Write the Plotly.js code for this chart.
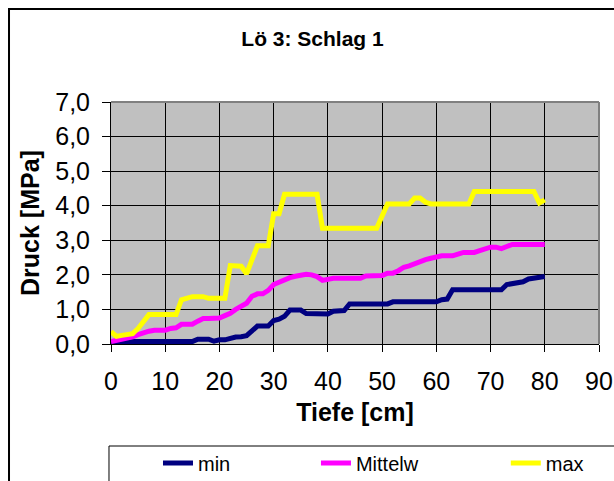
<!DOCTYPE html>
<html>
<head>
<meta charset="utf-8">
<script src="https://cdn.plot.ly/plotly-3.0.1.min.js"></script>
<style>
html,body{margin:0;padding:0;background:#fff;}
#chart{width:614px;height:481px;}
</style>
</head>
<body>
<div id="chart"></div>
<script>
// Depth (cm)
const depth = [0,1,2,3,4,5,6,7,8,9,10,11,12,13,14,15,16,17,18,19,20,
  21,22,23,24,25,26,27,28,29,30,31,32,33,34,35,36,37,38,39,40,
  41,42,43,44,45,46,47,48,49,50,51,52,53,54,55,56,57,58,59,60,
  61,62,63,64,65,66,67,68,69,70,71,72,73,74,75,76,77,78,79,80];

// Series names
const seriesNames = ["min", "Mittelw", "max"];

// Pressure (MPa)
const minVals = [0.02,0.04,0.06,0.07,0.07,0.07,0.07,0.07,0.07,0.07,0.07,0.07,0.07,0.07,0.07,0.07,
  0.14,0.14,0.14,0.08,0.12,0.12,0.17,0.20,0.21,0.24,
  0.38,0.52,0.52,0.52,0.68,0.72,0.80,0.98,0.98,0.98,
  0.88,0.87,0.87,0.87,0.87,0.95,0.95,0.97,1.16,1.16,
  1.16,1.16,1.16,1.16,1.16,1.16,1.22,1.22,1.22,1.22,
  1.22,1.22,1.22,1.22,1.22,1.28,1.30,1.57,1.57,1.57,
  1.57,1.57,1.57,1.57,1.57,1.57,1.57,1.72,1.74,1.78,
  1.80,1.88,1.90,1.94,1.95];

const meanVals = [0.07,0.10,0.14,0.18,0.21,0.27,0.33,0.37,0.40,0.40,0.40,0.45,0.47,0.57,0.57,0.57,
  0.66,0.74,0.74,0.74,0.75,0.82,0.89,1.00,1.10,1.18,
  1.38,1.45,1.45,1.55,1.72,1.80,1.88,1.92,1.96,2.00,
  2.02,2.00,1.95,1.84,1.88,1.90,1.90,1.90,1.90,1.90,
  1.90,1.97,1.98,1.98,1.98,2.05,2.05,2.12,2.22,2.26,
  2.32,2.40,2.44,2.48,2.52,2.55,2.55,2.55,2.60,2.65,
  2.65,2.65,2.70,2.74,2.80,2.80,2.76,2.82,2.88,2.88,
  2.88,2.88,2.88,2.88,2.88];

const maxVals = [0.36,0.22,0.25,0.28,0.30,0.45,0.65,0.85,0.85,0.85,0.85,0.85,0.85,1.28,1.32,1.37,
  1.37,1.37,1.32,1.32,1.32,1.32,2.27,2.27,2.25,2.03,
  2.45,2.84,2.84,2.84,3.77,3.77,4.33,4.33,4.33,4.33,
  4.33,4.33,4.33,3.35,3.35,3.35,3.35,3.35,3.35,3.35,
  3.35,3.35,3.35,3.35,3.70,4.05,4.05,4.05,4.05,4.05,
  4.22,4.22,4.10,4.05,4.05,4.05,4.05,4.05,4.05,4.05,
  4.05,4.41,4.41,4.41,4.41,4.41,4.41,4.41,4.41,4.41,
  4.41,4.41,4.41,4.08,4.17];

const colors = ["#000080", "#FF00FF", "#FFFF00"];
const FONT = "Liberation Sans, Arial, sans-serif";

const traces = [minVals, meanVals, maxVals].map((vals, i) => ({
  type: "scatter",
  mode: "lines",
  x: depth,
  y: vals,
  name: seriesNames[i],
  line: {color: colors[i], width: 5},
  legend: i === 0 ? "legend" : ("legend" + (i + 1)),
  hoverinfo: "skip"
}));

function legendCfg(x) {
  return {
    x: x, xref: "paper", xanchor: "left",
    y: 0.0374, yref: "container", yanchor: "middle",
    bgcolor: "rgba(0,0,0,0)", borderwidth: 0,
    font: {family: FONT, size: 20, color: "#000"}
  };
}

const layout = {
  width: 614, height: 481,
  margin: {l: 111, r: 15, t: 102, b: 137, pad: 0},
  paper_bgcolor: "#ffffff",
  plot_bgcolor: "#C0C0C0",
  separators: ",.",
  font: {family: FONT, color: "#000"},
  title: {
    text: "Lö 3: Schlag 1",
    font: {family: FONT, size: 21, weight: "bold", color: "#000"},
    x: 0.413, xref: "paper", xanchor: "center",
    y: 0.92, yref: "container", yanchor: "middle"
  },
  xaxis: {
    range: [0, 90], dtick: 10, tick0: 0,
    showgrid: true, gridcolor: "#000", gridwidth: 1,
    showline: true, linecolor: "#000", linewidth: 1,
    ticks: "outside", ticklen: 7, tickcolor: "#000", tickwidth: 1,
    ticklabelstandoff: 8,
    tickfont: {family: FONT, size: 25, color: "#000"},
    zeroline: false, fixedrange: true,
    title: {text: "Tiefe [cm]", font: {family: FONT, size: 25, weight: "bold", color: "#000"}, standoff: 9}
  },
  yaxis: {
    range: [0, 7], dtick: 1, tick0: 0, tickformat: ".1f",
    showgrid: true, gridcolor: "#000", gridwidth: 1,
    showline: true, linecolor: "#000", linewidth: 1,
    ticks: "outside", ticklen: 8, tickcolor: "#000", tickwidth: 1,
    ticklabelstandoff: 7,
    tickfont: {family: FONT, size: 25, color: "#000"},
    zeroline: false, fixedrange: true,
    title: {text: "Druck [MPa]", font: {family: FONT, size: 25, weight: "bold", color: "#000"}, standoff: 8}
  },
  showlegend: true,
  legend: legendCfg(0.0963),
  legend2: legendCfg(0.420),
  legend3: legendCfg(0.809),
  shapes: [
    // outer chart frame
    {type: "rect", xref: "paper", yref: "paper", x0: -0.209, x1: 1.06, y0: -0.65, y1: 1.384,
     line: {color: "#000", width: 2}, fillcolor: "rgba(0,0,0,0)", layer: "below"},
    // plot area border (top and right)
    {type: "line", xref: "paper", yref: "paper", x0: 0, x1: 1, y0: 1, y1: 1,
     line: {color: "#808080", width: 2}, layer: "above"},
    {type: "line", xref: "paper", yref: "paper", x0: 1, x1: 1, y0: 0, y1: 1,
     line: {color: "#808080", width: 2}, layer: "above"},
    // legend box
    {type: "rect", xref: "paper", yref: "paper", x0: -0.0041, x1: 1.06, y0: -0.65, y1: -0.4215,
     line: {color: "#000", width: 1}, fillcolor: "rgba(0,0,0,0)", layer: "above"}
  ]
};

Plotly.newPlot("chart", traces, layout, {displayModeBar: false, staticPlot: true});
</script>
</body>
</html>
